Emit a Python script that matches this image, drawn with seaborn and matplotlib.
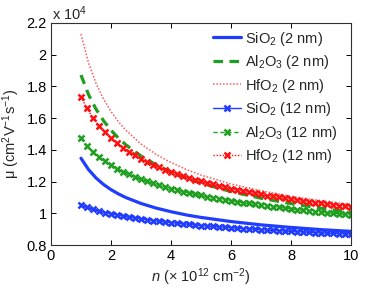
import matplotlib
matplotlib.use("Agg")
import matplotlib.pyplot as plt
import seaborn as sns

# ---- data (mobility in units of 1e4 cm^2/Vs) ----
n_line = [1, 1.25, 1.5, 1.75, 2, 2.25, 2.5, 3, 3.5, 4, 4.5, 5, 6, 7, 8, 9, 10]
sio2_2nm = [1.347, 1.276, 1.223, 1.182, 1.149, 1.122, 1.099, 1.062, 1.033, 1.010,
            0.990, 0.974, 0.948, 0.927, 0.911, 0.897, 0.886]
al2o3_2nm = [1.872, 1.749, 1.657, 1.584, 1.524, 1.474, 1.431, 1.361, 1.306, 1.260,
             1.222, 1.190, 1.137, 1.095, 1.061, 1.032, 1.007]
hfo2_2nm = [2.130, 1.950, 1.820, 1.721, 1.642, 1.577, 1.523, 1.437, 1.372, 1.320,
            1.277, 1.241, 1.185, 1.142, 1.107, 1.079, 1.055]

n_mark = [1.0, 1.2, 1.4, 1.6, 1.8, 2.0, 2.2, 2.4, 2.6, 2.8, 3.0, 3.2, 3.4, 3.6, 3.8,
          4.0, 4.2, 4.4, 4.6, 4.8, 5.0, 5.2, 5.4, 5.6, 5.8, 6.0, 6.2, 6.4, 6.6, 6.8,
          7.0, 7.2, 7.4, 7.6, 7.8, 8.0, 8.2, 8.4, 8.6, 8.8, 9.0, 9.2, 9.4, 9.6, 9.8, 10.0]
sio2_12nm = [1.052, 1.037, 1.025, 1.014, 1.005, 0.997, 0.989, 0.982, 0.976, 0.970,
             0.964, 0.959, 0.954, 0.950, 0.945, 0.941, 0.937, 0.934, 0.930, 0.927,
             0.923, 0.920, 0.917, 0.914, 0.912, 0.909, 0.906, 0.904, 0.901, 0.899,
             0.897, 0.894, 0.892, 0.890, 0.888, 0.886, 0.884, 0.882, 0.880, 0.878,
             0.876, 0.875, 0.873, 0.871, 0.870, 0.868]
al2o3_12nm = [1.473, 1.426, 1.388, 1.356, 1.328, 1.304, 1.282, 1.263, 1.245, 1.229,
              1.215, 1.201, 1.189, 1.177, 1.166, 1.156, 1.146, 1.137, 1.129, 1.120,
              1.113, 1.105, 1.098, 1.091, 1.085, 1.079, 1.073, 1.067, 1.062, 1.056,
              1.051, 1.046, 1.041, 1.037, 1.032, 1.028, 1.023, 1.019, 1.015, 1.011,
              1.008, 1.004, 1.000, 0.997, 0.993, 0.990]
hfo2_12nm = [1.735, 1.661, 1.601, 1.552, 1.510, 1.474, 1.441, 1.413, 1.388, 1.365,
             1.344, 1.325, 1.307, 1.290, 1.275, 1.261, 1.248, 1.235, 1.223, 1.212,
             1.201, 1.191, 1.182, 1.173, 1.164, 1.156, 1.148, 1.140, 1.133, 1.126,
             1.119, 1.112, 1.106, 1.100, 1.094, 1.089, 1.083, 1.078, 1.072, 1.067,
             1.063, 1.058, 1.053, 1.049, 1.044, 1.040]

labels = ["SiO$_2$ (2 nm)", "Al$_2$O$_3$ (2 nm)", "HfO$_2$ (2 nm)",
          "SiO$_2$ (12 nm)", "Al$_2$O$_3$ (12 nm)", "HfO$_2$ (12 nm)"]
xticks = [0, 2, 4, 6, 8, 10]
yticks = [0.8, 1.0, 1.2, 1.4, 1.6, 1.8, 2.0, 2.2]
yticklabels = ["0.8", "1", "1.2", "1.4", "1.6", "1.8", "2", "2.2"]

# ---- style ----
sns.set_style("ticks")
plt.rcParams["font.family"] = ["Liberation Sans", "DejaVu Sans"]
plt.rcParams["mathtext.fontset"] = "custom"
plt.rcParams["mathtext.rm"] = "Liberation Sans"
plt.rcParams["mathtext.it"] = "Liberation Sans:italic"
plt.rcParams["font.size"] = 10.5

blue = "#1f3cff"
green = "#1f9f1f"
red = "#ff1010"

fig = plt.figure(figsize=(3.88, 2.87), dpi=100)
ax = fig.add_axes([0.1314, 0.1463, 0.7732, 0.7736])

sns.lineplot(x=n_line, y=sio2_2nm, ax=ax, color=blue, linestyle="-", linewidth=2.3,
             label=labels[0])
sns.lineplot(x=n_line, y=al2o3_2nm, ax=ax, color=green, linestyle=(0, (3, 2)), linewidth=2.3,
             label=labels[1])
sns.lineplot(x=n_line, y=hfo2_2nm, ax=ax, color=red, linestyle=(0, (1, 1.2)), linewidth=1.1,
             alpha=0.7, label=labels[2])
for yv, col, ls, lab in [(sio2_12nm, blue, "-", labels[3]),
                         (al2o3_12nm, green, (0, (3, 2)), labels[4]),
                         (hfo2_12nm, red, (0, (1, 1.2)), labels[5])]:
    sns.lineplot(x=n_mark, y=yv, ax=ax, color=col, linestyle=ls, linewidth=1.0,
                 label=lab, marker="x", markersize=5, markeredgewidth=1.8,
                 markeredgecolor=col, markerfacecolor=col)

ax.set_xlim(0, 10)
ax.set_ylim(0.8, 2.2)
ax.set_xticks(xticks)
ax.set_xticklabels([str(t) for t in xticks])
ax.set_yticks(yticks)
ax.set_yticklabels(yticklabels)
ax.tick_params(direction="in", top=True, right=True, length=3.5, width=0.7,
               labelsize=10.5, colors="black", pad=3)
for s in ax.spines.values():
    s.set_linewidth(0.8)
    s.set_color("#303030")
    s.set_visible(True)

ax.set_xlabel("$n$ (× 10$^{12}$ cm$^{-2}$)", fontsize=10.5, labelpad=2)
ax.set_ylabel("μ (cm$^2$V$^{-1}$s$^{-1}$)", fontsize=10.5, labelpad=3)
fig.text(0.134, 0.93, "x 10$^4$", fontsize=10.5, ha="left", va="baseline")

leg = ax.legend(loc="upper right", frameon=False, fontsize=10.5, handlelength=1.9,
                handletextpad=0.3, labelspacing=0.38, borderaxespad=0.2,
                bbox_to_anchor=(0.985, 1.01))

fig.savefig("out.png", dpi=100)
